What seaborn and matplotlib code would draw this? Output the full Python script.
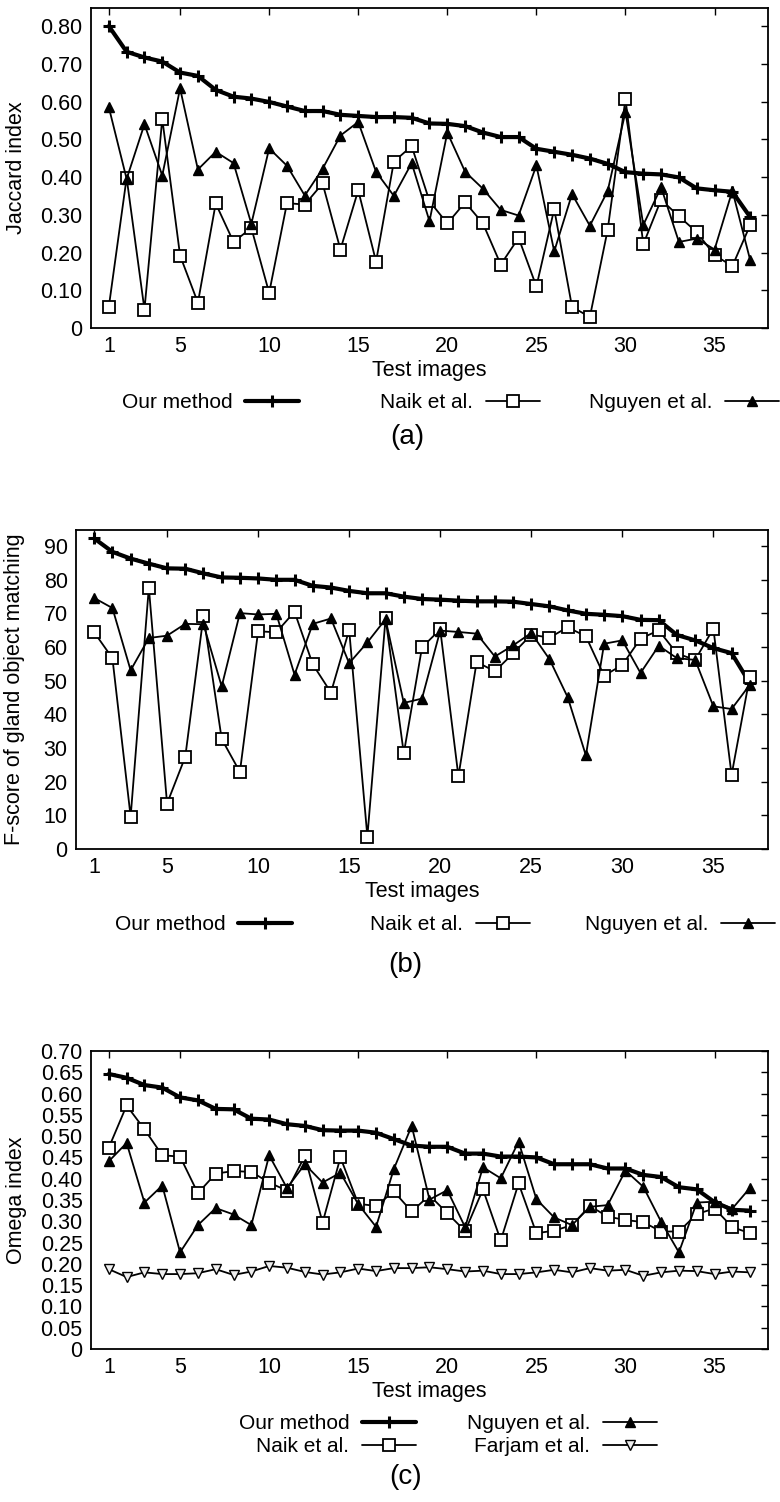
import numpy as np
import pandas as pd
import matplotlib
matplotlib.use("Agg")
import matplotlib.pyplot as plt
import seaborn as sns

# ---------------- data ----------------
images = list(range(1, 38))
x_ticks = [1, 5, 10, 15, 20, 25, 30, 35]

jac_our = [0.800, 0.732, 0.717, 0.706, 0.677, 0.668, 0.631, 0.613, 0.608, 0.599, 0.587, 0.575, 0.575,
           0.565, 0.562, 0.559, 0.559, 0.557, 0.542, 0.541, 0.535, 0.518, 0.506, 0.506, 0.475, 0.467,
           0.459, 0.449, 0.435, 0.413, 0.409, 0.407, 0.399, 0.370, 0.365, 0.361, 0.294]
jac_naik = [0.056, 0.398, 0.049, 0.554, 0.192, 0.067, 0.330, 0.228, 0.265, 0.093, 0.331, 0.327, 0.383,
            0.208, 0.365, 0.176, 0.441, 0.482, 0.336, 0.277, 0.333, 0.277, 0.168, 0.239, 0.110, 0.315,
            0.056, 0.029, 0.260, 0.607, 0.222, 0.340, 0.296, 0.254, 0.193, 0.164, 0.273]
jac_nguyen = [0.585, 0.395, 0.540, 0.404, 0.635, 0.420, 0.467, 0.437, 0.276, 0.476, 0.430, 0.351, 0.422,
              0.510, 0.546, 0.414, 0.350, 0.437, 0.283, 0.518, 0.414, 0.369, 0.313, 0.298, 0.431, 0.203,
              0.355, 0.271, 0.363, 0.573, 0.273, 0.373, 0.228, 0.237, 0.208, 0.364, 0.180]

f_our = [92.3, 88.3, 86.3, 84.8, 83.4, 83.3, 81.9, 80.7, 80.6, 80.4, 80.0, 80.0, 78.2, 77.7, 76.7, 76.0,
         76.0, 75.0, 74.3, 74.1, 73.8, 73.6, 73.6, 73.5, 72.8, 72.1, 70.9, 69.9, 69.6, 69.2, 68.1, 68.0,
         63.6, 62.0, 59.7, 58.2, 49.3]
f_naik = [64.4, 56.7, 9.6, 77.7, 13.5, 27.4, 69.3, 32.7, 22.9, 64.7, 64.4, 70.5, 54.9, 46.5, 65.1, 3.7,
          68.6, 28.4, 59.9, 65.3, 21.6, 55.6, 52.8, 58.1, 63.7, 62.8, 65.9, 63.2, 51.5, 54.7, 62.5, 65.0,
          58.1, 56.2, 65.5, 22.0, 51.2]
f_nguyen = [74.6, 71.6, 53.1, 62.7, 63.4, 66.9, 66.8, 48.3, 70.1, 69.7, 69.9, 51.8, 66.9, 68.5, 55.2, 61.4,
            68.3, 43.4, 44.7, 64.9, 64.5, 64.0, 57.2, 60.5, 64.2, 56.4, 45.1, 27.8, 61.0, 62.0, 52.3, 60.4,
            56.7, 56.2, 42.4, 41.6, 48.8]

om_our = [0.646, 0.637, 0.620, 0.614, 0.591, 0.584, 0.564, 0.563, 0.541, 0.539, 0.528, 0.524, 0.514,
          0.513, 0.513, 0.508, 0.493, 0.478, 0.475, 0.475, 0.459, 0.459, 0.452, 0.452, 0.450, 0.434,
          0.434, 0.434, 0.424, 0.424, 0.409, 0.404, 0.380, 0.375, 0.345, 0.327, 0.325]
om_naik = [0.473, 0.572, 0.516, 0.455, 0.452, 0.366, 0.412, 0.418, 0.416, 0.391, 0.372, 0.453, 0.297,
           0.450, 0.341, 0.336, 0.370, 0.323, 0.361, 0.319, 0.277, 0.375, 0.255, 0.389, 0.272, 0.278,
           0.291, 0.336, 0.311, 0.303, 0.298, 0.276, 0.276, 0.317, 0.330, 0.286, 0.272]
om_nguyen = [0.441, 0.484, 0.344, 0.384, 0.227, 0.291, 0.331, 0.316, 0.291, 0.455, 0.378, 0.434, 0.391,
             0.414, 0.340, 0.287, 0.423, 0.524, 0.351, 0.373, 0.286, 0.427, 0.401, 0.487, 0.352, 0.309,
             0.291, 0.334, 0.338, 0.419, 0.381, 0.299, 0.227, 0.344, 0.346, 0.330, 0.379]
om_farjam = [0.1875, 0.169, 0.180, 0.176, 0.176, 0.178, 0.1875, 0.174, 0.182, 0.195, 0.191, 0.181, 0.175,
             0.180, 0.189, 0.183, 0.190, 0.190, 0.192, 0.1875, 0.182, 0.184, 0.176, 0.176, 0.180, 0.186,
             0.180, 0.190, 0.184, 0.186, 0.172, 0.180, 0.184, 0.183, 0.176, 0.182, 0.180]

lab_our, lab_naik, lab_nguyen, lab_farjam = "Our method", "Naik et al.", "Nguyen et al.", "Farjam et al."

jac_yticks = [0, 0.10, 0.20, 0.30, 0.40, 0.50, 0.60, 0.70, 0.80]
f_yticks = [0, 10, 20, 30, 40, 50, 60, 70, 80, 90]
om_yticks = [0, 0.05, 0.10, 0.15, 0.20, 0.25, 0.30, 0.35, 0.40, 0.45, 0.50, 0.55, 0.60, 0.65, 0.70]

# ---------------- style ----------------
sns.set_theme(style="white")
plt.rcParams["font.family"] = ["Liberation Sans", "DejaVu Sans"]
plt.rcParams["axes.linewidth"] = 1.3
plt.rcParams["axes.edgecolor"] = "black"

W, H = 780, 1502
fig = plt.figure(figsize=(W / 100, H / 100), dpi=100)

FS = 15.5

styles = {
    lab_our: dict(color="black", linewidth=3.0, marker="+", markersize=8, markeredgewidth=2.2,
                  markeredgecolor="black"),
    lab_naik: dict(color="black", linewidth=1.3, marker="s", markersize=8, markeredgewidth=1.3,
                   markerfacecolor="white", markeredgecolor="black"),
    lab_nguyen: dict(color="black", linewidth=1.3, marker="^", markersize=6.5, markeredgewidth=1.0,
                     markerfacecolor="black", markeredgecolor="black"),
    lab_farjam: dict(color="black", linewidth=1.3, marker="v", markersize=7, markeredgewidth=1.0,
                     markerfacecolor="#eeeeee", markeredgecolor="black"),
}


def px_axes(l, r, t, b):
    return fig.add_axes([l / W, 1 - b / H, (r - l) / W, (b - t) / H])


def style_axes(ax, yticks, ylim, fmt, ylabel, ylab_x):
    ax.set_xlim(0, 38)
    ax.set_ylim(*ylim)
    ax.set_xticks(x_ticks)
    ax.set_xticklabels([str(v) for v in x_ticks])
    ax.set_yticks(yticks)
    ax.set_yticklabels([fmt(v) for v in yticks])
    ax.tick_params(direction="in", length=5, width=1, top=True, right=True,
                   labelsize=FS, pad=6, colors="black")
    ax.tick_params(axis="x", pad=6)
    ax.set_xlabel("Test images", fontsize=FS, labelpad=2, color="black")
    ax.set_ylabel(ylabel, fontsize=FS, color="black")
    ax.yaxis.set_label_coords(ylab_x, 0.5)
    for s in ax.spines.values():
        s.set_visible(True)
        s.set_color("black")
        s.set_linewidth(1.3)
    ax.grid(False)


def draw(ax, series):
    for lab, vals in series:
        df = pd.DataFrame({"image": images, "value": vals})
        sns.lineplot(data=df, x="image", y="value", ax=ax, label=lab, **styles[lab])
    h, l = ax.get_legend_handles_labels()
    if ax.get_legend() is not None:
        ax.get_legend().remove()
    return dict(zip(l, h))


def entry(handles, labels, x_right, y_center):
    fig.legend(handles, labels, loc="center right",
               bbox_to_anchor=(x_right / W, 1 - y_center / H),
               markerfirst=False, frameon=False, fontsize=15, handlelength=2.6,
               handletextpad=0.6, borderpad=0, borderaxespad=0, labelspacing=0.2,
               labelcolor="black")


def fmt2(v):
    return "0" if v == 0 else f"{v:.2f}"


# ---------------- panel (a) ----------------
ax_a = px_axes(91, 768, 8, 328)
ha = draw(ax_a, [(lab_our, jac_our), (lab_naik, jac_naik), (lab_nguyen, jac_nguyen)])
style_axes(ax_a, jac_yticks, (0, 0.848), fmt2, "Jaccard index", -0.095)
entry([ha[lab_our]], [lab_our], 299, 403)
entry([ha[lab_naik]], [lab_naik], 540, 403)
entry([ha[lab_nguyen]], [lab_nguyen], 779, 403)
fig.text(407 / W, 1 - 437 / H, "(a)", ha="center", va="center", fontsize=20, color="black")

# ---------------- panel (b) ----------------
ax_b = px_axes(76, 768, 530, 849)
hb = draw(ax_b, [(lab_our, f_our), (lab_naik, f_naik), (lab_nguyen, f_nguyen)])
style_axes(ax_b, f_yticks, (0, 94.8), lambda v: str(int(v)),
           "F-score of gland object matching", -0.073)
entry([hb[lab_our]], [lab_our], 292, 925)
entry([hb[lab_naik]], [lab_naik], 530, 925)
entry([hb[lab_nguyen]], [lab_nguyen], 775, 925)
fig.text(405 / W, 1 - 965 / H, "(b)", ha="center", va="center", fontsize=20, color="black")

# ---------------- panel (c) ----------------
ax_c = px_axes(91, 768, 1051, 1349)
hc = draw(ax_c, [(lab_our, om_our), (lab_naik, om_naik), (lab_nguyen, om_nguyen),
                 (lab_farjam, om_farjam)])
style_axes(ax_c, om_yticks, (0, 0.70), fmt2, "Omega index", -0.095)
entry([hc[lab_our], hc[lab_naik]], [lab_our, lab_naik], 416, 1435)
entry([hc[lab_nguyen], hc[lab_farjam]], [lab_nguyen, lab_farjam], 657, 1435)
fig.text(406 / W, 1 - 1477 / H, "(c)", ha="center", va="center", fontsize=20, color="black")

fig.savefig("out.png", dpi=100, facecolor="white")
